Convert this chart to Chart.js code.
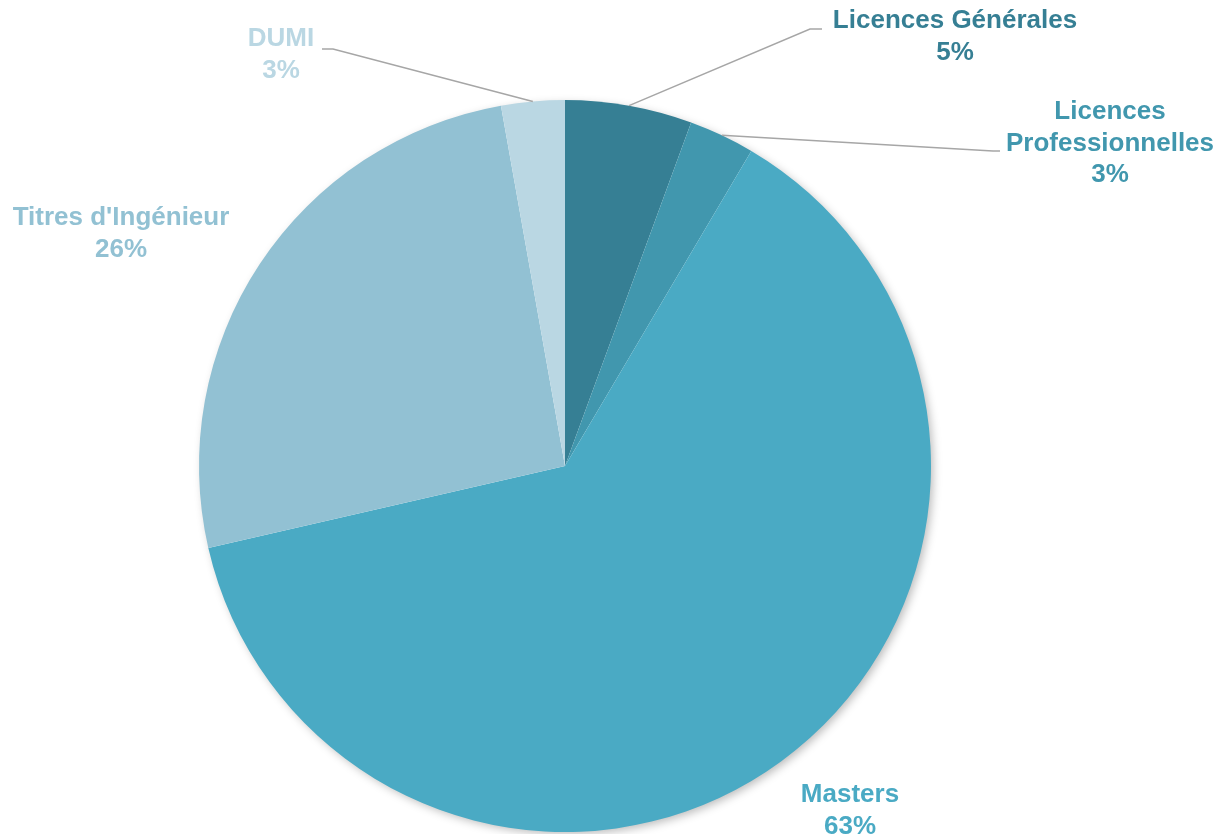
<!DOCTYPE html>
<html>
<head>
<meta charset="utf-8">
<script src="https://cdn.jsdelivr.net/npm/chart.js@4"></script>
<style>
  body { margin: 0; background: #fff; }
  #wrap { width: 1220px; height: 834px; position: relative; }
</style>
</head>
<body>
<div id="wrap"><canvas id="pie"></canvas></div>
<script>
const categories = ['Licences Générales', 'Licences Professionnelles', 'Masters', "Titres d'Ingénieur", 'DUMI'];
const shares = [5.6, 2.9, 62.9, 25.8, 2.8];
const shareLabels = ['5%', '3%', '63%', '26%', '3%'];
const colors = ['#367F94', '#4197AE', '#4AAAC4', '#92C1D3', '#BAD7E3'];

// label layout: text lines, centre x, first line middle y, optional leader elbow
const labelLayout = [
  { lines: ['Licences Générales'], x: 955, y: 21, elbow: [810, 29, 822] },
  { lines: ['Licences', 'Professionnelles'], x: 1110, y: 112, elbow: [993, 151, 1000] },
  { lines: ['Masters'], x: 850, y: 795 },
  { lines: ["Titres d'Ingénieur"], x: 121, y: 218 },
  { lines: ['DUMI'], x: 281, y: 39, elbow: [333, 49, 322] }
];

const shadowPlugin = {
  id: 'pieShadow',
  beforeDatasetsDraw(chart) {
    const arc = chart.getDatasetMeta(0).data[0];
    const ctx = chart.ctx;
    ctx.save();
    ctx.shadowColor = 'rgba(0,0,0,0.28)';
    ctx.shadowBlur = 10;
    ctx.shadowOffsetX = 3;
    ctx.shadowOffsetY = 3;
    ctx.fillStyle = '#fff';
    ctx.beginPath();
    ctx.arc(arc.x, arc.y, arc.outerRadius - 1, 0, Math.PI * 2);
    ctx.fill();
    ctx.restore();
  }
};

const labelPlugin = {
  id: 'pieLabels',
  afterDatasetsDraw(chart) {
    const ctx = chart.ctx;
    const arcs = chart.getDatasetMeta(0).data;
    ctx.save();
    arcs.forEach(function (arc, i) {
      const lay = labelLayout[i];
      if (lay.elbow) {
        const mid = (arc.startAngle + arc.endAngle) / 2;
        const sx = arc.x + Math.cos(mid) * arc.outerRadius;
        const sy = arc.y + Math.sin(mid) * arc.outerRadius;
        ctx.strokeStyle = '#a6a6a6';
        ctx.lineWidth = 1.5;
        ctx.beginPath();
        ctx.moveTo(sx, sy);
        ctx.lineTo(lay.elbow[0], lay.elbow[1]);
        ctx.lineTo(lay.elbow[2], lay.elbow[1]);
        ctx.stroke();
      }
      ctx.fillStyle = colors[i];
      ctx.font = 'bold 26px "Liberation Sans", Arial, sans-serif';
      ctx.textAlign = 'center';
      ctx.textBaseline = 'middle';
      const lines = lay.lines.concat([shareLabels[i]]);
      lines.forEach(function (t, k) {
        ctx.fillText(t, lay.x, lay.y + k * 31.5);
      });
    });
    ctx.restore();
  }
};

new Chart(document.getElementById('pie'), {
  type: 'pie',
  data: {
    labels: categories,
    datasets: [{
      data: shares,
      backgroundColor: colors,
      borderWidth: 0
    }]
  },
  options: {
    responsive: true,
    maintainAspectRatio: false,
    animation: false,
    layout: { padding: { top: 100, bottom: 2, left: 0, right: 90 } },
    plugins: {
      legend: { display: false },
      tooltip: { enabled: false }
    }
  },
  plugins: [shadowPlugin, labelPlugin]
});
</script>
</body>
</html>
